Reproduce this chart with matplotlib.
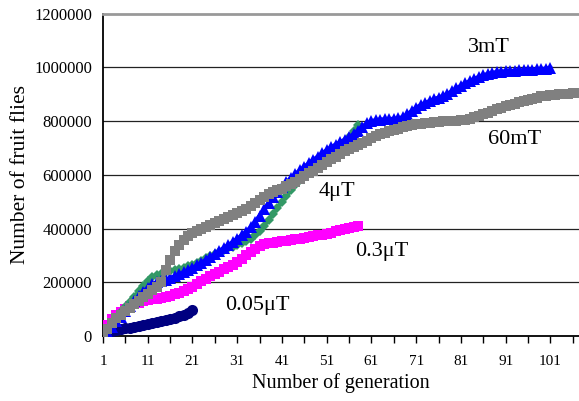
import matplotlib
matplotlib.use("Agg")
import matplotlib.pyplot as plt

# Cumulative fruit-fly counts per generation under different magnetic fields
series_labels = ["0.05\u03bcT", "0.3\u03bcT", "4\u03bcT", "3mT", "60mT"]

flies_005uT = [8000, 13000, 18000, 22000, 25000, 28000, 31000, 34000, 37000, 40000,
               43000, 47000, 51000, 55000, 59000, 64000, 68000, 73000, 79000, 87000,
               97000]

flies_03uT = [22000, 42000, 62000, 78000, 90000, 100000, 110000, 118000, 124000, 129000,
              133000, 136000, 139000, 142000, 146000, 150000, 155000, 161000, 167000, 174000,
              183000, 193000, 203000, 213000, 222000, 231000, 240000, 249000, 257000, 265000,
              275000, 287000, 300000, 313000, 325000, 335000, 341000, 345000, 348000, 350000,
              352000, 354000, 357000, 360000, 363000, 366000, 369000, 372000, 375000, 378000,
              381000, 385000, 390000, 395000, 399000, 403000, 407000, 411000]

flies_4uT = [0, 20000, 42000, 65000, 88000, 108000, 128000, 147000, 166000, 185000,
             205000, 218000, 226000, 232000, 237000, 241000, 245000, 249000, 254000, 260000,
             266000, 273000, 281000, 289000, 297000, 305000, 313000, 320000, 327000, 333000,
             339000, 345000, 352000, 362000, 375000, 390000, 410000, 432000, 455000, 478000,
             500000, 522000, 543000, 562000, 580000, 597000, 612000, 627000, 641000, 655000,
             669000, 683000, 698000, 713000, 728000, 743000, 762000, 785000]

flies_3mT = [0, 15000, 35000, 55000, 72000, 92000, 112000, 130000, 148000, 165000,
             180000, 192000, 200000, 205000, 210000, 216000, 222000, 230000, 238000, 246000,
             254000, 263000, 273000, 284000, 295000, 306000, 317000, 328000, 339000, 350000,
             362000, 375000, 388000, 405000, 425000, 448000, 472000, 495000, 517000, 537000,
             555000, 572000, 588000, 603000, 617000, 630000, 643000, 656000, 668000, 680000,
             692000, 703000, 713000, 722000, 730000, 740000, 752000, 765000, 780000, 792000,
             800000, 804000, 806000, 807000, 808000, 809000, 811000, 815000, 825000, 838000,
             850000, 860000, 868000, 875000, 882000, 888000, 894000, 902000, 912000, 922000,
             932000, 941000, 950000, 958000, 965000, 971000, 976000, 980000, 983000, 985000,
             986000, 987000, 988000, 989000, 990000, 991000, 992000, 993000, 994000, 996000,
             998000]

flies_60mT = [3000, 25000, 47000, 66000, 80000, 93000, 106000, 119000, 132000, 145000,
              158000, 171000, 184000, 200000, 245000, 283000, 315000, 340000, 358000, 372000,
              383000, 392000, 400000, 407000, 414000, 421000, 429000, 436000, 443000, 450000,
              457000, 465000, 474000, 484000, 495000, 506000, 517000, 527000, 535000, 542000,
              549000, 557000, 566000, 575000, 585000, 595000, 606000, 616000, 626000, 637000,
              648000, 658000, 668000, 678000, 688000, 697000, 705000, 712000, 719000, 727000,
              736000, 744000, 751000, 757000, 762000, 767000, 772000, 777000, 781000, 785000,
              788000, 791000, 793000, 795000, 797000, 798000, 799000, 800000, 801000, 802000,
              803000, 806000, 810000, 815000, 820000, 826000, 832000, 838000, 844000, 850000,
              855000, 860000, 865000, 870000, 875000, 880000, 884000, 888000, 892000, 895000,
              897000, 899000, 901000, 902000, 903000, 904000, 905000]

x_tick_values = list(range(1, 102, 10))
y_tick_values = list(range(0, 1200001, 200000))

plt.rcParams['font.family'] = ['Liberation Serif', 'DejaVu Serif']

fig = plt.figure(figsize=(5.79, 4.01), dpi=100)
ax = fig.add_axes([0.1779, 0.1621, 0.8221, 0.8035])

styles = [
    (flies_005uT, dict(color="#000080", marker="o", markersize=8)),
    (flies_03uT, dict(color="#FF00FF", marker="s", markersize=7.5)),
    (flies_4uT, dict(color="#339966", marker="D", markersize=5.5)),
    (flies_3mT, dict(color="#0000FF", marker="^", markersize=8.5)),
    (flies_60mT, dict(color="#808080", marker="s", markersize=6.5)),
]
for values, st in styles:
    gens = list(range(1, len(values) + 1))
    ax.plot(gens, values, linewidth=3, markeredgewidth=0, zorder=3, **st)

ax.set_xlim(1, 107.4)
ax.set_ylim(0, 1200000)

ax.set_xticks(x_tick_values)
ax.set_xticklabels([str(v) for v in x_tick_values])
ax.set_xticks(list(range(1, 108, 5)), minor=True)
ax.tick_params(axis="x", which="both", direction="out", length=5, width=1,
               color="black", labelsize=11, pad=9)
ax.set_yticks(y_tick_values)
ax.set_yticklabels([str(v) for v in y_tick_values])
ax.tick_params(axis="y", length=0, labelsize=12, pad=8)

for v in y_tick_values[1:-1]:
    ax.axhline(v, color="#222222", linewidth=0.9, zorder=1)

for side in ("left", "bottom"):
    ax.spines[side].set_color("black")
    ax.spines[side].set_linewidth(1.3)
ax.spines["top"].set_color("#999999")
ax.spines["top"].set_linewidth(2)
ax.spines["right"].set_visible(False)

ax.set_xlabel("Number of generation", fontsize=14.5, labelpad=3)
ax.set_ylabel("Number of fruit flies", fontsize=15.5, labelpad=3)

label_pos = [(35.4, 112000), (63.3, 313000), (53.3, 540000), (87.3, 1076000), (92.9, 730000)]
for text, (gx, gy) in zip(series_labels, label_pos):
    ax.text(gx, gy, text, fontsize=16, ha="center", va="center", zorder=4)

fig.savefig("out.png", dpi=100)
